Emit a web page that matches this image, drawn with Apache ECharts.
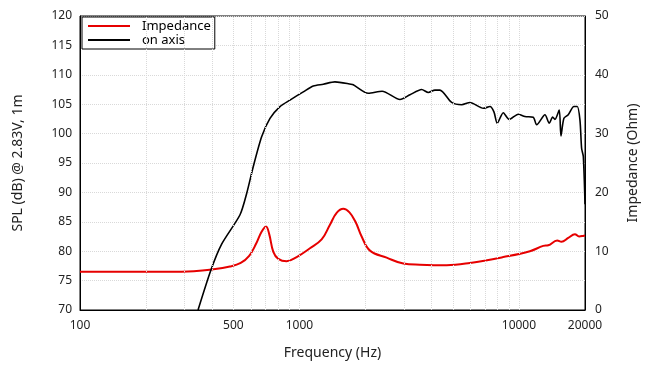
<!DOCTYPE html>
<html>
<head>
<meta charset="utf-8">
<script src="https://cdn.jsdelivr.net/npm/echarts@6/dist/echarts.min.js"></script>
<style>html,body{margin:0;padding:0;background:#fff}#c{width:650px;height:368px}</style>
</head>
<body>
<div id="c"></div>
<script>
// Frequency axis labels and grid frequencies
const xTickLabels = [100, 500, 1000, 10000, 20000];
const gridFreqs = [200, 300, 400, 500, 600, 700, 800, 900, 1000, 2000, 3000, 4000, 5000, 6000, 7000, 8000, 9000, 10000];

// On-axis SPL (dB)
const splFreq = [345, 395, 442, 536, 575, 616, 673, 734, 815, 905, 1041, 1156, 1284, 1451, 1716, 1758, 2058, 2380, 2871, 3187, 3604, 3864, 4143, 4365, 4936, 5483, 5983, 6877, 7380, 7692, 7965, 8483, 9034, 9926, 10650, 11617, 12040, 13140, 13740, 14240, 14590, 15260, 15540, 16030, 16770, 17800, 18440, 18970, 19300, 19650, 20000];
const splValues = [70, 76.8, 81.2, 86.2, 89.85, 94.4, 99.5, 102.6, 104.6, 105.7, 107.1, 108.1, 108.4, 108.8, 108.4, 108.3, 106.85, 107.2, 105.8, 106.6, 107.5, 107.0, 107.4, 107.4, 105.3, 104.9, 105.3, 104.3, 104.6, 103.7, 101.75, 103.55, 102.4, 103.3, 102.9, 102.8, 101.5, 103.2, 101.75, 102.8, 102.4, 104.0, 99.6, 102.6, 103.2, 104.6, 104.6, 102.3, 97.5, 96.1, 88];

// Impedance (Ohm)
const impFreq = [100, 250, 330, 400, 482, 540, 590, 635, 672, 704, 728, 760, 801, 874, 971, 1116, 1262, 1377, 1477, 1584, 1690, 1800, 1920, 2096, 2496, 2972, 3540, 4683, 5983, 8483, 11220, 12900, 13600, 14940, 15620, 16770, 17990, 18800, 19600, 20000];
const impValues = [6.5, 6.5, 6.6, 6.9, 7.4, 8.0, 9.2, 11.3, 13.3, 14.2, 12.9, 9.9, 8.7, 8.3, 9.0, 10.5, 12.0, 14.5, 16.5, 17.2, 16.6, 15.0, 12.5, 10.1, 8.9, 7.9, 7.7, 7.6, 8.0, 9.0, 10.0, 10.9, 11.0, 11.8, 11.6, 12.25, 12.9, 12.5, 12.6, 12.7];

const FONT = "'Noto Sans', 'DejaVu Sans', sans-serif";
const chart = echarts.init(document.getElementById('c'), null, {renderer: 'canvas'});
chart.setOption({
  animation: false,
  backgroundColor: '#fff',
  textStyle: {fontFamily: FONT},
  grid: {left: 80, right: 65, top: 16, bottom: 58, show: true, borderColor: '#000', borderWidth: 1, containLabel: false},
  legend: {
    data: ['Impedance', 'on axis'],
    orient: 'vertical',
    left: 82, top: 17,
    icon: 'rect', itemWidth: 42, itemHeight: 2, itemGap: 0,
    padding: [2, 4, 2, 6],
    backgroundColor: '#fff', borderColor: '#000', borderWidth: 1, borderRadius: 0,
    textStyle: {fontFamily: FONT, fontSize: 13, color: '#000', lineHeight: 14, padding: [0, 0, 0, 7]}
  },
  xAxis: {
    type: 'log', logBase: 10, min: 100, max: 20000,
    name: 'Frequency (Hz)', nameLocation: 'middle', nameGap: 36,
    nameTextStyle: {fontFamily: FONT, fontSize: 14, color: '#222'},
    axisLine: {show: true, lineStyle: {color: '#000', width: 1}},
    axisTick: {show: false},
    splitLine: {show: false},
    minorSplitLine: {show: false},
    axisLabel: {customValues: xTickLabels, formatter: v => String(Math.round(v)), fontFamily: FONT, fontSize: 12, color: '#222', margin: 10}
  },
  yAxis: [
    {
      type: 'value', min: 70, max: 120, interval: 5, position: 'left',
      name: 'SPL (dB) @ 2.83V, 1m', nameLocation: 'middle', nameGap: 55, nameRotate: 90,
      nameTextStyle: {fontFamily: FONT, fontSize: 14, color: '#222'},
      axisLine: {show: true, lineStyle: {color: '#000', width: 1}},
      axisTick: {show: false},
      axisLabel: {fontFamily: FONT, fontSize: 12, color: '#222', margin: 8},
      splitLine: {show: true, lineStyle: {color: '#d9d9d9', type: 'dotted', width: 1}}
    },
    {
      type: 'value', min: 0, max: 50, interval: 10, position: 'right',
      name: 'Impedance (Ohm)', nameLocation: 'middle', nameGap: 41, nameRotate: 90,
      nameTextStyle: {fontFamily: FONT, fontSize: 14, color: '#222'},
      axisLine: {show: true, lineStyle: {color: '#000', width: 1}},
      axisTick: {show: false},
      axisLabel: {fontFamily: FONT, fontSize: 12, color: '#222', margin: 10},
      splitLine: {show: false}
    }
  ],
  series: [
    {
      name: 'grid', type: 'line', data: [[100, 70]], symbol: 'none', silent: true, z: 1,
      lineStyle: {opacity: 0},
      markLine: {
        silent: true, symbol: 'none', animation: false,
        label: {show: false},
        lineStyle: {color: '#d9d9d9', type: 'dotted', width: 1},
        data: gridFreqs.map(f => ({xAxis: f}))
      }
    },
    {
      name: 'Impedance', type: 'line', yAxisIndex: 1, color: '#e60000',
      data: impFreq.map((f, i) => [f, impValues[i]]),
      symbol: 'none', smooth: 0.4, z: 3,
      lineStyle: {color: '#e60000', width: 2}
    },
    {
      name: 'on axis', type: 'line', yAxisIndex: 0, color: '#000',
      data: splFreq.map((f, i) => [f, splValues[i]]),
      symbol: 'none', smooth: 0.25, z: 4,
      lineStyle: {color: '#000', width: 1.6}
    }
  ]
});
</script>
</body>
</html>
